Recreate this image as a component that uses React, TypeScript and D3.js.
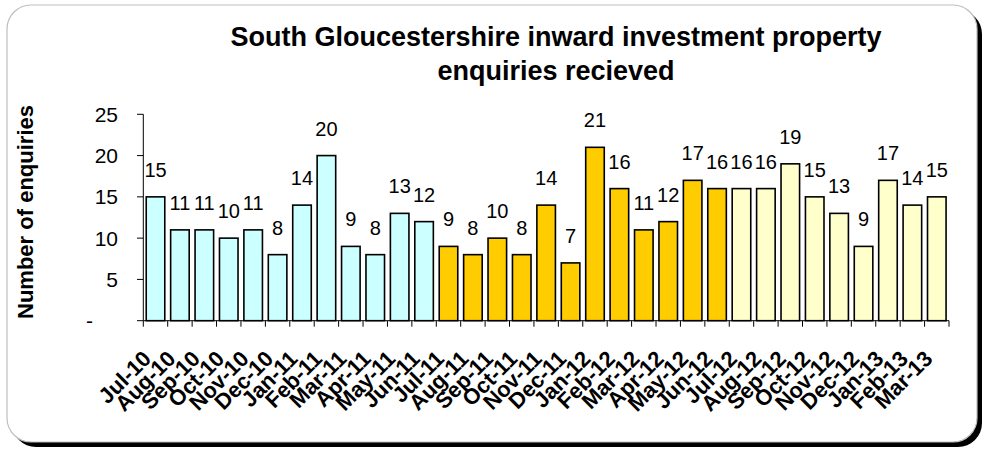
import React from "react";
import * as d3 from "d3";

const categories = [
  "Jul-10","Aug-10","Sep-10","Oct-10","Nov-10","Dec-10","Jan-11","Feb-11","Mar-11","Apr-11","May-11","Jun-11",
  "Jul-11","Aug-11","Sep-11","Oct-11","Nov-11","Dec-11","Jan-12","Feb-12","Mar-12","Apr-12","May-12","Jun-12",
  "Jul-12","Aug-12","Sep-12","Oct-12","Nov-12","Dec-12","Jan-13","Feb-13","Mar-13",
];
const values2010_11 = [15, 11, 11, 10, 11, 8, 14, 20, 9, 8, 13, 12];
const values2011_12 = [9, 8, 10, 8, 14, 7, 21, 16, 11, 12, 17, 16];
const values2012_13 = [16, 16, 19, 15, 13, 9, 17, 14, 15];
const seriesColors = ["#CCFFFF", "#FFCC00", "#FFFFCC"];
const yTicks = [0, 5, 10, 15, 20, 25];
const titleLines = ["South Gloucestershire inward investment property", "enquiries recieved"];
const yTitle = "Number of enquiries";

const W = 990, H = 450;
const FONT = "'Liberation Sans', Arial, sans-serif";

export default function App() {
  const data = [
    ...values2010_11.map((v) => ({ v, s: 0 })),
    ...values2011_12.map((v) => ({ v, s: 1 })),
    ...values2012_13.map((v) => ({ v, s: 2 })),
  ].map((d, i) => ({ ...d, c: categories[i] }));

  const x = d3.scaleBand<string>().domain(categories).range([143.3, 949]).paddingInner(0.24).paddingOuter(0.12);
  const xb = d3.scaleBand<string>().domain(categories).range([143.3, 949]);
  const y = d3.scaleLinear().domain([0, 25]).range([320.7, 114.3]);

  return (
    <svg width={W} height={H} style={{ position: "absolute", left: 0, top: 0 }} fontFamily={FONT}>
      <rect x={12} y={10} width={970} height={437} rx={24} fill="#000" />
      <rect x={7} y={5} width={970} height={437} rx={24} fill="#fff" stroke="#bfbfbf" strokeWidth={1.2} />
      {titleLines.map((t, i) => (
        <text key={i} x={556} y={46 + i * 34} textAnchor="middle" fontSize={27} fontWeight="bold" fill="#000">{t}</text>
      ))}
      <text transform={`translate(33,212) rotate(-90)`} textAnchor="middle" fontSize={22} fontWeight="bold">{yTitle}</text>
      {/* bars */}
      {data.map((d, i) => (
        <rect key={i} x={x(d.c)} y={y(d.v)} width={x.bandwidth()} height={y(0) - y(d.v)}
          fill={seriesColors[d.s]} stroke="#000" strokeWidth={1.6} />
      ))}
      {/* y axis */}
      <line x1={143.3} x2={143.3} y1={y(25)} y2={y(0)} stroke="#000" strokeWidth={1} />
      {yTicks.map((t) => (
        <g key={t}>
          <line x1={137} x2={143.3} y1={y(t)} y2={y(t)} stroke="#000" />
          <text x={t === 0 ? 93 : 118} y={y(t) + 7.5} textAnchor="end" fontSize={21}>{t === 0 ? "-" : t}</text>
        </g>
      ))}
      {/* x axis */}
      <line x1={143.3} x2={949} y1={y(0)} y2={y(0)} stroke="#000" strokeWidth={1} />
      {categories.map((c, i) => (
        <line key={i} x1={xb(c)} x2={xb(c)} y1={y(0)} y2={y(0) + 6} stroke="#000" />
      ))}
      <line x1={949} x2={949} y1={y(0)} y2={y(0) + 6} stroke="#000" />
      {categories.map((c) => {
        const cx = (xb(c) as number) + xb.bandwidth() / 2;
        return (
          <text key={c} transform={`translate(${cx - 3},360) rotate(-45)`} textAnchor="end" fontSize={22} fontWeight="bold">{c}</text>
        );
      })}
      {/* data labels */}
      {data.map((d, i) => (
        <text key={i} x={(x(d.c) as number) + x.bandwidth() / 2} y={y(d.v) - 20} textAnchor="middle" fontSize={20}>{d.v}</text>
      ))}
    </svg>
  );
}
